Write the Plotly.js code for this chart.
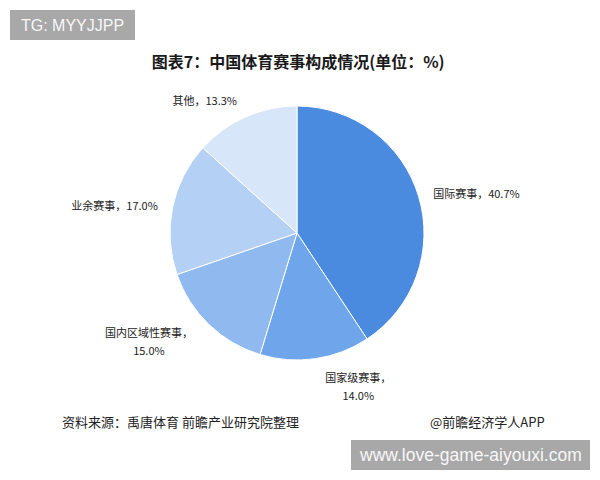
<!DOCTYPE html>
<html>
<head>
<meta charset="utf-8">
<script src="https://cdn.plot.ly/plotly-3.0.1.min.js"></script>
<style>
  html, body { margin: 0; padding: 0; background: #ffffff; }
  #chart { width: 600px; height: 480px; }
</style>
</head>
<body>
<div id="chart"></div>
<script>
// 中国体育赛事构成（单位：%）
const categories = ['国际赛事', '国家级赛事', '国内区域性赛事', '业余赛事', '其他'];
const shares = [40.7, 14.0, 15.0, 17.0, 13.3];
const sliceColors = ['#4a8be0', '#6fa5ea', '#8fb9ef', '#b4d0f4', '#d8e6f9'];
// 标签是否换行显示数值
const wrapLabel = [false, true, true, false, false];

// 标签字号 11px；外层字号取大一些，用来拉开换行后的行距
const labelSpan = s => '<span style="font-size:11px">' + s + '</span>';
const labelText = categories.map((c, i) =>
  wrapLabel[i]
    ? labelSpan(c + '，') + '<br>' + labelSpan(shares[i].toFixed(1) + '%')
    : labelSpan(c + '，' + shares[i].toFixed(1) + '%')
);

const cjk = '"Noto Sans CJK SC", "Noto Sans", sans-serif';

// 饼图中心与半径（像素）
const cx = 297, cy = 233, rPie = 127, rLabel = 138;
const W = 600, H = 480;
const domainFor = r => ({
  x: [(cx - r) / W, (cx + r) / W],
  y: [(H - cy - r) / H, (H - cy + r) / H]
});

// 可见的扇区
const slices = {
  type: 'pie',
  labels: categories,
  values: shares,
  textinfo: 'none',
  sort: false,
  direction: 'clockwise',
  rotation: 0,
  marker: { colors: sliceColors, line: { color: '#ffffff', width: 1 } },
  domain: domainFor(rPie),
  showlegend: false,
  hoverinfo: 'label+value'
};

// 外侧标签：同一组数据，稍大的透明饼图，使标签与扇区留出间距
const labelRing = {
  type: 'pie',
  labels: categories,
  values: shares,
  text: labelText,
  textinfo: 'text',
  textposition: 'outside',
  outsidetextfont: { family: cjk, size: 13.5, color: '#222222' },
  sort: false,
  direction: 'clockwise',
  rotation: 0,
  marker: { colors: categories.map(() => 'rgba(0,0,0,0)'), line: { width: 0 } },
  domain: domainFor(rLabel),
  showlegend: false,
  hoverinfo: 'skip'
};

const layout = {
  width: W,
  height: H,
  margin: { l: 0, r: 0, t: 0, b: 0 },
  paper_bgcolor: '#ffffff',
  plot_bgcolor: '#ffffff',
  font: { family: cjk },
  title: {
    text: '<b>图表7：中国体育赛事构成情况(单位：%)</b>',
    font: { family: cjk, size: 16, color: '#1a1a1a' },
    x: 0.497, xanchor: 'center',
    y: 1 - 62 / H, yanchor: 'middle'
  },
  annotations: [
    {
      text: '资料来源：禹唐体育 前瞻产业研究院整理',
      xref: 'paper', yref: 'paper', x: 60 / W, y: 1 - 421 / H,
      xanchor: 'left', yanchor: 'middle', showarrow: false,
      font: { family: cjk, size: 13, color: '#222222' }
    },
    {
      text: '@前瞻经济学人APP',
      xref: 'paper', yref: 'paper', x: 547 / W, y: 1 - 421 / H,
      xanchor: 'right', yanchor: 'middle', showarrow: false,
      font: { family: cjk, size: 13, color: '#222222' }
    },
    {
      text: 'TG: MYYJJPP',
      xref: 'paper', yref: 'paper', x: 72 / W, y: 1 - 25 / H,
      xanchor: 'center', yanchor: 'middle', showarrow: false,
      font: { family: 'Liberation Sans, Arial, sans-serif', size: 16, color: '#f7f7f7' }
    },
    {
      text: 'www.love-game-aiyouxi.com',
      xref: 'paper', yref: 'paper', x: 470 / W, y: 1 - 455 / H,
      xanchor: 'center', yanchor: 'middle', showarrow: false,
      font: { family: 'Liberation Sans, Arial, sans-serif', size: 17.5, color: '#f7f7f7' }
    }
  ],
  shapes: [
    {
      type: 'rect', xref: 'paper', yref: 'paper', layer: 'below',
      x0: 10 / W, x1: 135 / W, y0: 1 - 40 / H, y1: 1 - 10 / H,
      fillcolor: '#a8a8a8', line: { width: 0 }
    },
    {
      type: 'rect', xref: 'paper', yref: 'paper', layer: 'below',
      x0: 351 / W, x1: 590 / W, y0: 1 - 470 / H, y1: 1 - 440 / H,
      fillcolor: '#a8a8a8', line: { width: 0 }
    }
  ]
};

Plotly.newPlot('chart', [slices, labelRing], layout, { displayModeBar: false, staticPlot: true });
</script>
</body>
</html>
